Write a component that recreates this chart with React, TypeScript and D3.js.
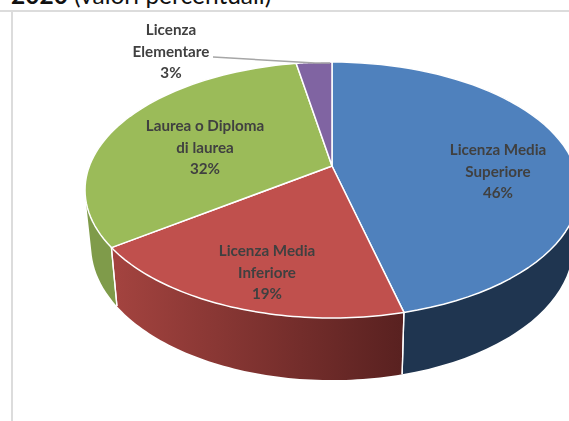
import React from "react";
import * as d3 from "d3";

const categories = ["Licenza Media Superiore", "Licenza Media Inferiore", "Laurea o Diploma di laurea", "Licenza Elementare"];
const values = [46.1, 18.9, 32.2, 2.8];
const topColors = ["#4f81bd", "#c0504d", "#9bbb59", "#8064a2"];
const sideFrom = ["#1f3550", "#a3433f", "#7f9b4a", "#604a7b"];
const sideTo = ["#1f3550", "#592120", "#86a350", "#604a7b"];
const labelLines = [
  ["Licenza Media", "Superiore", "46%"],
  ["Licenza Media", "Inferiore", "19%"],
  ["Laurea o Diploma", "di laurea", "32%"],
  ["Licenza", "Elementare", "3%"],
];
const labelX = [498, 267, 205, 171];
const labelY = [150, 251, 126, 30];

const W = 569, H = 421;
const cx = 332, cy = 166, R = 242.6, K = 123.5, P = 0.1875;

// perspective projection of a point on the unit disc
const top = (a: number): [number, number] => {
  const u = Math.sin(a), v = -Math.cos(a), w = 1 - P * v;
  return [cx + (R * u) / w, cy + (K * v) / w];
};
const bottom = (a: number): [number, number] => {
  const [x, y] = top(a);
  return [cx + (x - cx) * 0.975, y + 0.05 * (y - cy) + 54.5];
};

const line = d3.line<[number, number]>();
const arcs = d3.pie<number>().sort(null)(values);
const samples = (a0: number, a1: number) =>
  d3.range(0, 61).map((i) => a0 + ((a1 - a0) * i) / 60);

// swept side wall: union of small hulls with one orientation
const sidePath = (a0: number, a1: number) => {
  const s = samples(a0, a1);
  return s
    .slice(1)
    .map((a, i) => {
      const hull = d3.polygonHull([top(s[i]), top(a), bottom(a), bottom(s[i])]);
      return hull ? line(hull) + "Z" : "";
    })
    .join("");
};

export default function App() {
  return (
    <svg width={W} height={H} style={{ position: "absolute", left: 0, top: 0, background: "#fff" }}>
      <defs>
        {arcs.map((d, i) => (
          <linearGradient key={i} id={`side${i}`} gradientUnits="userSpaceOnUse" x1={116} x2={402} y1={0} y2={0}>
            <stop offset="0" stopColor={sideFrom[i]} />
            <stop offset="1" stopColor={sideTo[i]} />
          </linearGradient>
        ))}
        <filter id="soft" x="-5%" y="-5%" width="110%" height="110%">
          <feGaussianBlur stdDeviation="0.35" />
        </filter>
      </defs>

      <text x={11} y={3.5} fontFamily="Lato" fontSize={24.5} fill="#111">
        <tspan fontWeight={700}>2020</tspan>
        <tspan> (valori percentuali)</tspan>
      </text>
      <rect x={0} y={10} width={W} height={2} fill="#dcdcdc" />
      <rect x={11} y={11} width={2} height={H - 11} fill="#dcdcdc" />

      {arcs.map((d, i) => (
        <path key={i} d={sidePath(d.startAngle, d.endAngle)} fill={`url(#side${i})`} />
      ))}
      {arcs.map((d, i) => {
        const edges = [d.startAngle, d.endAngle].filter((a) => top(a)[1] > 200);
        return edges.map((a, j) => (
          <path key={`${i}-${j}`} d={line([top(a), bottom(a)]) as string} stroke="#fff" strokeWidth={1.3} fill="none" />
        ));
      })}
      {arcs.map((d, i) => {
        const s = samples(d.startAngle, d.endAngle);
        const path = line([[cx, cy], ...s.map((a) => top(a))]) + "Z";
        return <path key={i} d={path} fill={topColors[i]} stroke="#fff" strokeWidth={1.5} strokeLinejoin="round" />;
      })}

      <path d="M213,57 L315,63 L330,63" fill="none" stroke="#a6a6a6" strokeWidth={1.5} />

      <g filter="url(#soft)">
        {categories.map((c, i) =>
          labelLines[i].map((t, j) => (
            <text key={c + j} x={labelX[i]} y={labelY[i] + j * 21.5 + 5} textAnchor="middle" fontFamily="Lato" fontWeight={700} fontSize={15.2} fill="#404040">
              {t}
            </text>
          ))
        )}
      </g>
    </svg>
  );
}
